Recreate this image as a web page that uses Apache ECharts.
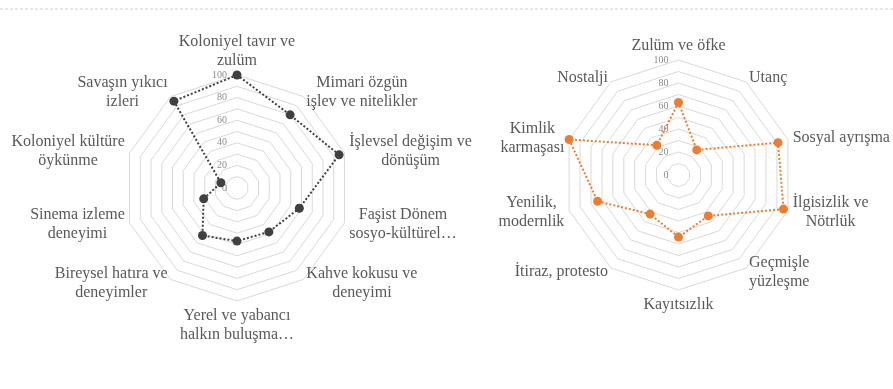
<!DOCTYPE html>
<html>
<head>
<meta charset="utf-8">
<script src="https://cdn.jsdelivr.net/npm/echarts@6/dist/echarts.min.js"></script>
<style>
html,body{margin:0;padding:0;background:#fff;}
#main{width:893px;height:389px;}
</style>
</head>
<body>
<div id="main"></div>
<script>
// left radar, clockwise from top
var leftNames = [
    'Koloniyel tavır ve\nzulüm',
    'Mimari özgün\nişlev ve nitelikler',
    'İşlevsel değişim ve\ndönüşüm',
    'Faşist Dönem\nsosyo-kültürel…',
    'Kahve kokusu ve\ndeneyimi',
    'Yerel ve yabancı\nhalkın buluşma…',
    'Bireysel hatıra ve\ndeneyimler',
    'Sinema izleme\ndeneyimi',
    'Koloniyel kültüre\nöykünme',
    'Savaşın yıkıcı\nizleri'
];
var leftValues = [100, 80, 95, 58, 48, 47, 52, 31, 15, 95];

// right radar, clockwise from top
var rightNames = [
    'Zulüm ve öfke',
    'Utanç',
    'Sosyal ayrışma',
    'İlgisizlik ve\nNötrlük',
    'Geçmişle\nyüzleşme',
    'Kayıtsızlık',
    'İtiraz, protesto',
    'Yenilik,\nmodernlik',
    'Kimlik\nkarmaşası',
    'Nostalji'
];
var rightValues = [63, 27, 91, 96, 44, 54, 42, 74, 100, 32];

var tickLabels = [0, 20, 40, 60, 80, 100];

var serif = '"Liberation Serif", "Times New Roman", serif';

// echarts radar goes counter-clockwise, so flip everything after the first one
function clockwise(arr){
    return [arr[0]].concat(arr.slice(1).reverse());
}

function makeIndicators(names){
    var list = [];
    for(var i = 0;i<names.length;i++){
        var ind = {name: names[i], min: 0, max: 100};
        if(i == 0){
            ind.axisLabel = {show: true};
        }
        list.push(ind);
    }
    return list;
}

function makeRadar(names, center, radius){
    return {
        center: center,
        radius: radius,
        startAngle: 90,
        splitNumber: 10,
        shape: 'polygon',
        indicator: makeIndicators(clockwise(names)),
        axisNameGap: 5,
        axisName: {
            color: '#595959',
            fontFamily: serif,
            fontSize: 16,
            lineHeight: 19,
            formatter: function(name){
                return name.split('\n').map(function(s){ return '{c|' + s + '}'; }).join('\n');
            },
            rich: {
                c: {align: 'center', color: '#595959', fontFamily: serif, fontSize: 16, lineHeight: 19}
            }
        },
        axisLine: {show: false},
        axisTick: {show: false},
        axisLabel: {
            show: false,
            margin: 10,
            color: '#8c8c8c',
            fontFamily: serif,
            fontSize: 10,
            formatter: function(v){
                return tickLabels.indexOf(v) >= 0 ? String(v) : '';
            }
        },
        splitArea: {show: false},
        splitLine: {lineStyle: {color: '#d9d9d9', width: 1}}
    };
}

var chart = echarts.init(document.getElementById('main'));

var option = {
    backgroundColor: '#fff',
    animation: false,
    graphic: [{
        type: 'line',
        shape: {x1: 0, y1: 9, x2: 893, y2: 9},
        style: {stroke: '#d0d0d0', lineWidth: 1, lineDash: [3, 2]}
    }],
    radar: [
        makeRadar(leftNames, [237, 188], 113),
        makeRadar(rightNames, [678.5, 175], 115)
    ],
    series: [
        {
            type: 'radar',
            radarIndex: 0,
            symbol: 'circle',
            symbolSize: 9,
            lineStyle: {color: '#404040', width: 2, type: [2, 2]},
            itemStyle: {color: '#404040'},
            data: [{value: clockwise(leftValues)}]
        },
        {
            type: 'radar',
            radarIndex: 1,
            symbol: 'circle',
            symbolSize: 9,
            lineStyle: {color: '#ED7D31', width: 2, type: [2, 2]},
            itemStyle: {color: '#ED7D31'},
            data: [{value: clockwise(rightValues)}]
        }
    ]
};

chart.setOption(option);
</script>
</body>
</html>
